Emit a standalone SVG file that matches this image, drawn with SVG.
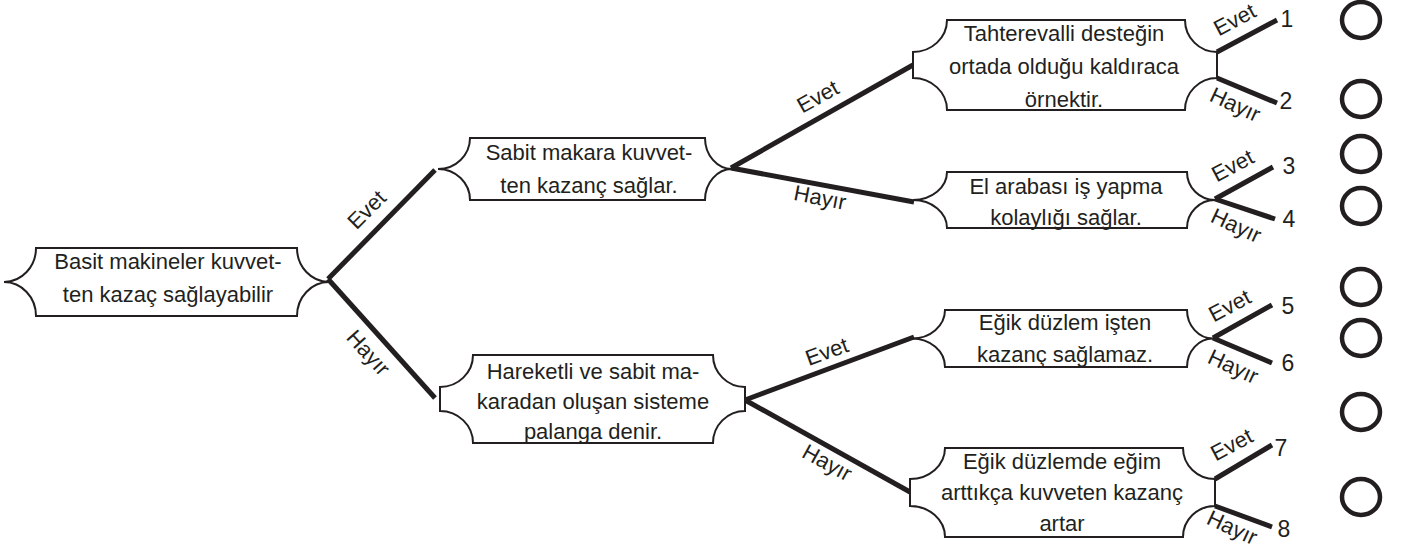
<svg xmlns="http://www.w3.org/2000/svg" width="1403" height="558" viewBox="0 0 1403 558">
<style>
.node{fill:#fff;stroke:#231f20;stroke-width:2}
.t{font-family:"Liberation Sans",Arial,sans-serif;font-size:22px;fill:#231f20;text-anchor:middle}
.lbl{font-family:"Liberation Sans",Arial,sans-serif;font-size:22px;fill:#231f20;text-anchor:middle}
.num{font-family:"Liberation Sans",Arial,sans-serif;font-size:23px;fill:#231f20;text-anchor:middle}
.c{stroke:#231f20;stroke-width:5;fill:none;stroke-linecap:butt}
.o{fill:none;stroke:#231f20;stroke-width:4.5}
</style>
<rect width="1403" height="558" fill="#fff"/>
<g id="connectors">
<line class="c" x1="328" y1="279" x2="435" y2="170"/>
<line class="c" x1="328" y1="279" x2="435" y2="398"/>
<line class="c" x1="731" y1="168" x2="913" y2="65"/>
<line class="c" x1="731" y1="168" x2="914" y2="202"/>
<line class="c" x1="745" y1="400" x2="914" y2="337"/>
<line class="c" x1="745" y1="400" x2="910" y2="492"/>
<line class="c" x1="1217" y1="52" x2="1277" y2="20"/>
<line class="c" x1="1217" y1="78" x2="1277" y2="103"/>
<line class="c" x1="1215" y1="199" x2="1273" y2="167"/>
<line class="c" x1="1215" y1="199" x2="1275" y2="219"/>
<line class="c" x1="1213" y1="338" x2="1272" y2="305"/>
<line class="c" x1="1213" y1="338" x2="1272" y2="363"/>
<line class="c" x1="1215" y1="479" x2="1272" y2="445"/>
<line class="c" x1="1215" y1="506" x2="1272" y2="527"/>
<text class="lbl" transform="translate(367,210) rotate(-45)" dy="7">Evet</text>
<text class="lbl" transform="translate(368,353) rotate(48)" dy="7">Hayır</text>
<text class="lbl" transform="translate(818,97) rotate(-29)" dy="7">Evet</text>
<text class="lbl" transform="translate(820,198) rotate(11)" dy="7">Hayır</text>
<text class="lbl" transform="translate(827,352) rotate(-20)" dy="7">Evet</text>
<text class="lbl" transform="translate(827,463) rotate(29)" dy="7">Hayır</text>
<text class="lbl" transform="translate(1235,20) rotate(-28)" dy="7">Evet</text>
<text class="lbl" transform="translate(1235,105) rotate(25)" dy="7">Hayır</text>
<text class="lbl" transform="translate(1233,166) rotate(-28)" dy="7">Evet</text>
<text class="lbl" transform="translate(1236,226) rotate(25)" dy="7">Hayır</text>
<text class="lbl" transform="translate(1230,306) rotate(-28)" dy="7">Evet</text>
<text class="lbl" transform="translate(1233,367) rotate(25)" dy="7">Hayır</text>
<text class="lbl" transform="translate(1232,445) rotate(-28)" dy="7">Evet</text>
<text class="lbl" transform="translate(1232,528) rotate(25)" dy="7">Hayır</text>
</g>
<g id="n0">
<path class="node" d="M36,248 H297 A32,34 0 0 0 329,282 A32,34 0 0 0 297,316 H36 A32,34 0 0 0 4,282 A32,34 0 0 0 36,248 Z"/>
<text class="t" x="168" y="269">Basit makineler kuvvet-</text>
<text class="t" x="168" y="302">ten kazaç sağlayabilir</text>
</g>
<g id="n1">
<path class="node" d="M470,138 H705 A27,31 0 0 0 732,169 A27,31 0 0 0 705,200 H470 A32,31 0 0 0 438,169 A32,31 0 0 0 470,138 Z"/>
<text class="t" x="589" y="160">Sabit makara kuvvet-</text>
<text class="t" x="589" y="193">ten kazanç sağlar.</text>
</g>
<g id="n2">
<path class="node" d="M473,355 H713 A32,32 0 0 0 745,387 V411 A32,32 0 0 0 713,443 H473 A33,32 0 0 0 440,411 V387 A33,32 0 0 0 473,355 Z"/>
<text class="t" x="593" y="379">Hareketli ve sabit ma-</text>
<text class="t" x="593" y="409">karadan oluşan sisteme</text>
<text class="t" x="593" y="439">palanga denir.</text>
</g>
<g id="n3">
<path class="node" d="M947,20 H1185 A32,32 0 0 0 1217,52 V78 A32,32 0 0 0 1185,110 H947 A34,32 0 0 0 913,78 V52 A34,32 0 0 0 947,20 Z"/>
<text class="t" x="1064" y="41">Tahterevalli desteğin</text>
<text class="t" x="1064" y="74">ortada olduğu kaldıraca</text>
<text class="t" x="1064" y="107">örnektir.</text>
</g>
<g id="n4">
<path class="node" d="M947,172 H1187 A28,28 0 0 0 1215,200 A28,28 0 0 0 1187,228 H947 A34,28 0 0 0 913,200 A34,28 0 0 0 947,172 Z"/>
<text class="t" x="1066" y="194">El arabası iş yapma</text>
<text class="t" x="1066" y="225">kolaylığı sağlar.</text>
</g>
<g id="n5">
<path class="node" d="M945,310 H1187 A26,28.5 0 0 0 1213,338.5 A26,28.5 0 0 0 1187,367 H945 A33,28.5 0 0 0 912,338.5 A33,28.5 0 0 0 945,310 Z"/>
<text class="t" x="1065" y="330">Eğik düzlem işten</text>
<text class="t" x="1065" y="362">kazanç sağlamaz.</text>
</g>
<g id="n6">
<path class="node" d="M945,448 H1183 A32,31 0 0 0 1215,479 V506 A32,31 0 0 0 1183,537 H945 A35,31 0 0 0 910,506 V479 A35,31 0 0 0 945,448 Z"/>
<text class="t" x="1062" y="469">Eğik düzlemde eğim</text>
<text class="t" x="1062" y="500">arttıkça kuvveten kazanç</text>
<text class="t" x="1062" y="531">artar</text>
</g>
<g id="numbers">
<text class="num" x="1287" y="27">1</text>
<text class="num" x="1286" y="109">2</text>
<text class="num" x="1289" y="174">3</text>
<text class="num" x="1289" y="227">4</text>
<text class="num" x="1288" y="314">5</text>
<text class="num" x="1288" y="371">6</text>
<text class="num" x="1281" y="456">7</text>
<text class="num" x="1284" y="537">8</text>
</g>
<g id="answers">
<ellipse class="o" cx="1361" cy="20" rx="19" ry="18"/>
<ellipse class="o" cx="1361" cy="99" rx="19" ry="18"/>
<ellipse class="o" cx="1361" cy="154" rx="19" ry="18"/>
<ellipse class="o" cx="1361" cy="206" rx="19" ry="18"/>
<ellipse class="o" cx="1361" cy="287" rx="19" ry="18"/>
<ellipse class="o" cx="1361" cy="338" rx="19" ry="18"/>
<ellipse class="o" cx="1361" cy="412" rx="19" ry="18"/>
<ellipse class="o" cx="1361" cy="497" rx="19" ry="18"/>
</g>
</svg>
